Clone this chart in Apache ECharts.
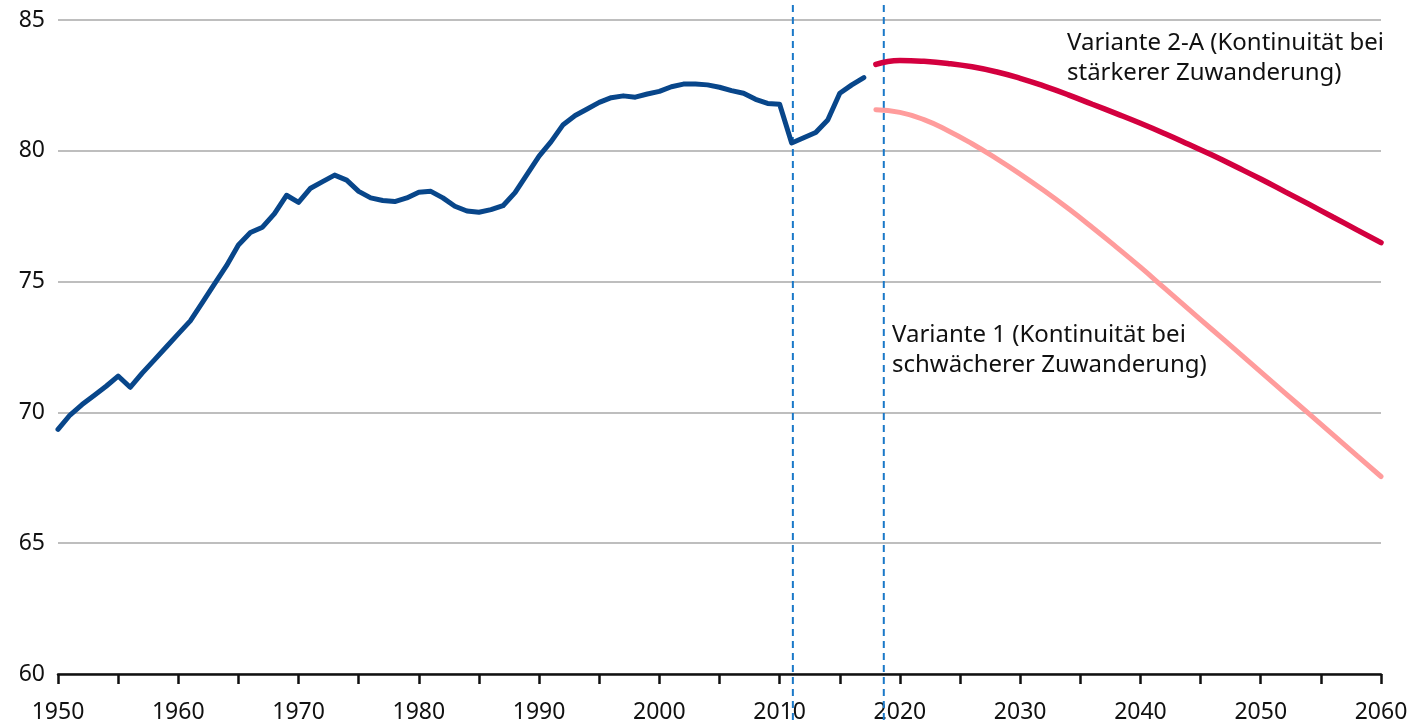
<!DOCTYPE html>
<html>
<head>
<meta charset="utf-8">
<script src="https://cdn.jsdelivr.net/npm/echarts@6/dist/echarts.min.js"></script>
<style>
  html, body { margin: 0; padding: 0; background: #fff; }
  #chart { width: 1416px; height: 726px; }
</style>
</head>
<body>
<div id="chart"></div>
<script>
// historical data 1950-2017
const histYears = []
for (let y = 1950; y <= 2017; y++) histYears.push(y)
const histValues = [
  69.35, 69.9, 70.3, 70.65, 71.0, 71.39, 70.96, 71.5, 72.0, 72.5,
  73.0, 73.5, 74.2, 74.9, 75.6, 76.4, 76.88, 77.08, 77.6, 78.3,
  78.03, 78.57, 78.82, 79.07, 78.88, 78.45, 78.2, 78.1, 78.06, 78.2,
  78.42, 78.45, 78.2, 77.88, 77.7, 77.65, 77.75, 77.9, 78.4, 79.1,
  79.8, 80.35, 81.0, 81.35, 81.6, 81.85, 82.03, 82.1, 82.05, 82.17,
  82.27, 82.45, 82.55, 82.55, 82.52, 82.43, 82.3, 82.2, 81.97, 81.81,
  81.78, 80.3, 80.5, 80.7, 81.18, 82.2, 82.52, 82.8
]

// projections 2018-2060
const projYears = [2018, 2020, 2022, 2024, 2026, 2028, 2030, 2032, 2034, 2036, 2038, 2040,
  2042, 2044, 2046, 2048, 2050, 2052, 2054, 2056, 2058, 2060]
const variante2A = [83.3, 83.45, 83.42, 83.34, 83.21, 83.02, 82.77, 82.47, 82.14, 81.78, 81.42, 81.05,
  80.66, 80.25, 79.83, 79.38, 78.92, 78.44, 77.96, 77.47, 76.98, 76.49]
const variante1 = [81.57, 81.47, 81.19, 80.77, 80.27, 79.71, 79.11, 78.47, 77.79, 77.07, 76.32, 75.55,
  74.75, 73.95, 73.15, 72.35, 71.55, 70.75, 69.95, 69.15, 68.35, 67.55]

// dashed markers (year positions) and their vertical reach
const dashedYears = [2011.1, 2018.66]
const dashedRange = [85.57, 58.1]

const labelV2A = 'Variante 2-A (Kontinuität bei\nstärkerer Zuwanderung)'
const labelV1 = 'Variante 1 (Kontinuität bei\nschwächerer Zuwanderung)'

const zip = (xs, ys) => xs.map((x, i) => [x, ys[i]])
const font = '"Noto Sans", Lato, sans-serif'

const dashedSeries = dashedYears.map(x => ({
  type: 'line',
  data: dashedRange.map(v => [x, v]),
  symbol: 'none',
  clip: false,
  silent: true,
  z: 1,
  lineStyle: { color: '#1a78c8', width: 2, type: [7, 5] }
}))

const chart = echarts.init(document.getElementById('chart'))

chart.setOption({
  animation: false,
  grid: { left: 58, right: 35, top: 20, bottom: 52, containLabel: false },
  xAxis: {
    type: 'value',
    min: 1950,
    max: 2060,
    interval: 5,
    axisLine: { lineStyle: { color: '#111', width: 2.5 } },
    axisTick: { show: true, length: 10, lineStyle: { color: '#111', width: 2.5 } },
    axisLabel: {
      color: '#111',
      fontFamily: font,
      fontSize: 23,
      margin: 27,
      formatter: v => (v % 10 === 0 ? String(v) : '')
    },
    splitLine: { show: false }
  },
  yAxis: {
    type: 'value',
    min: 60,
    max: 85,
    interval: 5,
    axisLine: { show: false },
    axisTick: { show: false },
    axisLabel: { color: '#111', fontFamily: font, fontSize: 23, margin: 13 },
    splitLine: { lineStyle: { color: '#a8a8a8', width: 1.5 } }
  },
  series: [
    ...dashedSeries,
    {
      name: 'Historisch',
      type: 'line',
      data: zip(histYears, histValues),
      symbol: 'none',
      z: 3,
      lineStyle: { color: '#08468a', width: 5, cap: 'round', join: 'round' }
    },
    {
      name: 'Variante 2-A',
      type: 'line',
      data: zip(projYears, variante2A),
      smooth: true,
      symbol: 'none',
      z: 3,
      lineStyle: { color: '#d3003f', width: 5.5, cap: 'round' }
    },
    {
      name: 'Variante 1',
      type: 'line',
      data: zip(projYears, variante1),
      smooth: true,
      symbol: 'none',
      z: 3,
      lineStyle: { color: '#ff9c9c', width: 5, cap: 'round' }
    }
  ],
  graphic: [
    {
      type: 'text',
      left: 1067,
      top: 28,
      style: { text: labelV2A, fill: '#111', font: '24px ' + font, lineHeight: 30 }
    },
    {
      type: 'text',
      left: 892,
      top: 320,
      style: { text: labelV1, fill: '#111', font: '24px ' + font, lineHeight: 30 }
    }
  ]
})
</script>
</body>
</html>
